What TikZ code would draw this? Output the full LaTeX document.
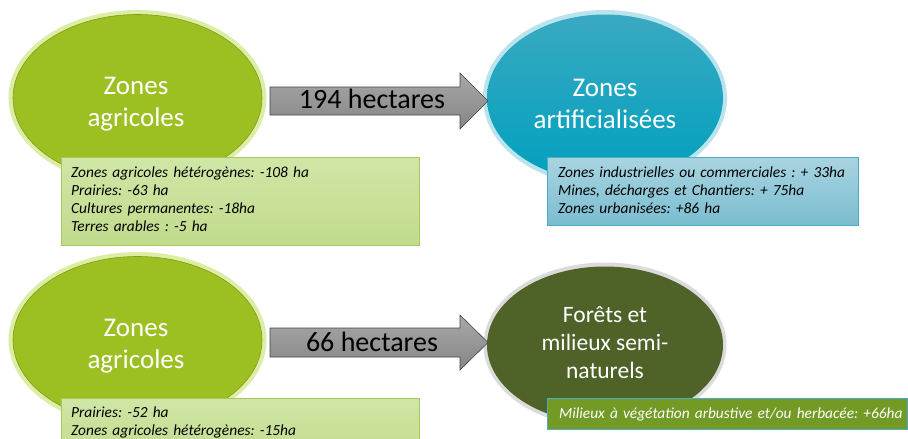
\documentclass[tikz,border=0pt]{standalone}
\usepackage{fontspec}
\setmainfont{Carlito}
\frenchspacing
\usetikzlibrary{shapes.geometric}
\definecolor{agri}{HTML}{9CBF22}
\definecolor{agriglow}{HTML}{D5E98F}
\definecolor{agriedge}{HTML}{7F9B1A}
\definecolor{boxgtop}{HTML}{D0E6A6}
\definecolor{boxgbot}{HTML}{C1DB8C}
\definecolor{boxgedge}{HTML}{A5C95C}
\definecolor{tealtop}{HTML}{3AA9C2}
\definecolor{tealbot}{HTML}{00A0BE}
\definecolor{tealglow}{HTML}{A9DDE9}
\definecolor{boxbtop}{HTML}{A8D4E0}
\definecolor{boxbbot}{HTML}{7ABDD0}
\definecolor{boxbedge}{HTML}{4BACC6}
\definecolor{forest}{HTML}{4F6228}
\definecolor{forestglow}{HTML}{D2D2D2}
\definecolor{boxf}{HTML}{729A24}
\definecolor{arrtop}{HTML}{A8A8A8}
\definecolor{arrbot}{HTML}{858585}
\definecolor{arredge}{HTML}{454545}
\begin{document}
\begin{tikzpicture}[x=1pt,y=-1pt,
  zonetext/.style={text=white,font=\fontsize{27}{31.5}\selectfont,align=center},
  detail/.style={anchor=base west,inner sep=0pt,text width=350pt,align=left,
    font=\fontsize{15.4}{18.3}\selectfont\itshape},
  arrowtext/.style={font=\fontsize{28}{32}\selectfont,text=black}]
\useasboundingbox (0,0) rectangle (908,439);
\clip (0,0) rectangle (908,439);
% ---------- top row ----------
% ellipse 1
\draw[agriglow,line width=8pt,opacity=.8] (137.5,98) ellipse [x radius=125,y radius=84];
\node[ellipse,draw=agriedge,line width=.6pt,fill=agri,minimum width=249pt,minimum height=167pt,inner sep=0pt] (e1) at (137.5,98) {};
\node[zonetext] (t1) at (136,104) {Zones\\agricoles};
% ellipse 2
\draw[tealglow,line width=8pt,opacity=.8] (605,98) ellipse [x radius=118,y radius=84];
\node[ellipse,top color=tealtop,bottom color=tealbot,minimum width=236pt,minimum height=167pt,inner sep=0pt] (e2) at (605,98) {};
\node[zonetext] (t2) at (605,104) {Zones\\artificialisées};
% arrow 1
\coordinate (a1e) at (488,101);
\shade[draw=arredge,line width=.6pt,top color=arrtop,bottom color=arrbot]
  (270,87) -- (460,87) -- (460,73) -- (a1e) -- (460,129) -- (460,115) -- (270,115) -- cycle;
\node[arrowtext,anchor=base] (h1) at (372,108) {194 hectares};
% box 1
\node[draw=boxgedge,line width=.8pt,top color=boxgtop,bottom color=boxgbot,anchor=north west,
  minimum width=358pt,minimum height=88pt,inner sep=0pt] (b1) at (61,157) {};
\node[detail] (d1) at (71,177) {Zones agricoles hétérogènes: -108 ha\\Prairies: -63 ha\\Cultures permanentes: -18ha\\Terres arables : -5 ha};
% box 2
\node[draw=boxbedge,line width=.8pt,top color=boxbtop,bottom color=boxbbot,anchor=north west,
  minimum width=311pt,minimum height=68pt,inner sep=0pt] (b2) at (547,157) {};
\node[detail] (d2) at (558,177) {Zones industrielles ou commerciales : + 33ha\\Mines, décharges et Chantiers: + 75ha\\Zones urbanisées: +86 ha};
% ---------- bottom row ----------
% ellipse 3
\draw[agriglow,line width=8pt,opacity=.8] (137.5,340) ellipse [x radius=125,y radius=84];
\node[ellipse,draw=agriedge,line width=.6pt,fill=agri,minimum width=249pt,minimum height=167pt,inner sep=0pt] (e3) at (137.5,340) {};
\node[zonetext] (t3) at (136,346) {Zones\\agricoles};
% ellipse 4
\draw[forestglow,line width=7pt,opacity=.8] (605,345) ellipse [x radius=118,y radius=79];
\node[ellipse,fill=forest,minimum width=236pt,minimum height=157pt,inner sep=0pt] (e4) at (605,345) {};
\node[zonetext,font=\fontsize{23.5}{28}\selectfont] (t4) at (605,343) {Forêts et\\milieux semi-\\naturels};
% arrow 2
\coordinate (a2e) at (488,342.5);
\shade[draw=arredge,line width=.6pt,top color=arrtop,bottom color=arrbot]
  (270,328) -- (460,328) -- (460,315) -- (a2e) -- (460,370) -- (460,357) -- (270,357) -- cycle;
\node[arrowtext,anchor=base] (h2) at (372,351) {66 hectares};
% box 3
\node[draw=boxgedge,line width=.8pt,top color=boxgtop,bottom color=boxgbot,anchor=north west,
  minimum width=358pt,minimum height=60pt,inner sep=0pt] (b3) at (61,398) {};
\node[detail] (d3) at (71,417) {Prairies: -52 ha\\Zones agricoles hétérogènes: -15ha};
% box 4
\node[draw=boxbedge,line width=.8pt,fill=boxf,anchor=north west,
  minimum width=360pt,minimum height=31pt,inner sep=0pt] (b4) at (547,398) {};
\node[detail,text=white] (d4) at (559,418) {Milieux à végétation arbustive et/ou herbacée: +66ha};
\end{tikzpicture}
\end{document}
